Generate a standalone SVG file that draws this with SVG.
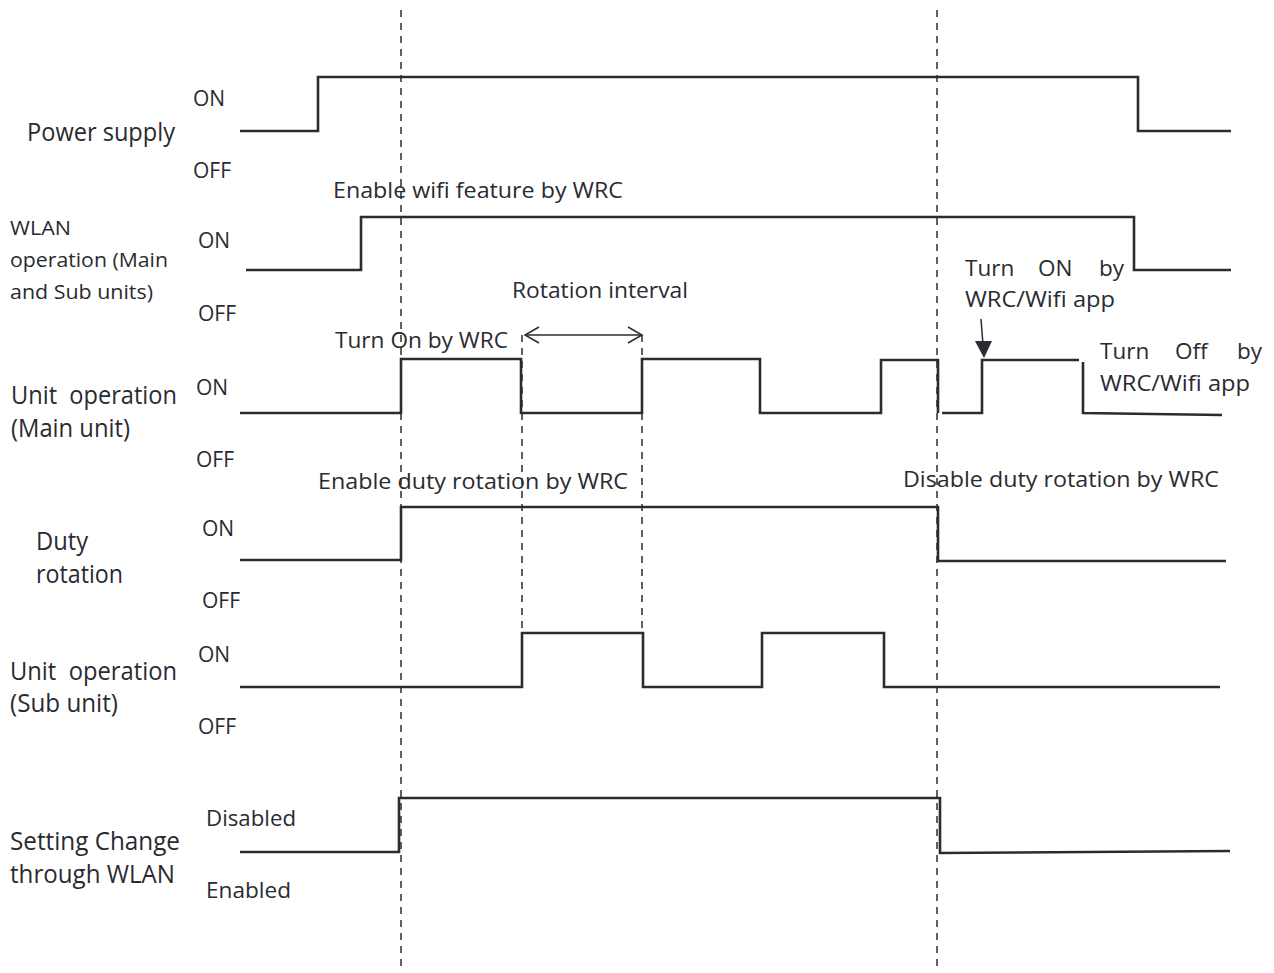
<svg xmlns="http://www.w3.org/2000/svg" width="1274" height="973" viewBox="0 0 1274 973">
<style>
text{font-family:"Open Sans","Noto Sans","Liberation Sans",sans-serif;fill:#2a2b30}
.lbl{font-size:25px}
.sm{font-size:20px}
.st{font-size:21px}
.ann{font-size:22.5px}
.sig{fill:none;stroke:#2b2c31;stroke-width:2.6;stroke-linejoin:miter;stroke-linecap:butt}
.dash{fill:none;stroke:#2b2c31;stroke-width:1.5;stroke-dasharray:7 6}
.thin{fill:none;stroke:#2b2c31;stroke-width:1.5}
</style>
<rect width="1274" height="973" fill="#ffffff"/>
<g id="connectors">
<line class="dash" x1="401" y1="10" x2="401" y2="970"/>
<line class="dash" x1="937" y1="10" x2="937" y2="970"/>
<line class="dash" x1="522" y1="335" x2="522" y2="633"/>
<line class="dash" x1="642" y1="335" x2="642" y2="633"/>
<g id="rotation-arrow">
<line class="thin" x1="525" y1="335" x2="642" y2="335"/>
<path class="thin" d="M539,327 L525,335 L539,343"/>
<path class="thin" d="M628,327 L642,335 L628,343"/>
</g>
<g id="turn-on-arrow">
<line class="thin" x1="981" y1="319" x2="983" y2="345"/>
<polygon points="975,341 992,341 984,358" fill="#2b2c31"/>
</g>
</g>
<g id="power-supply">
<text class="lbl" x="27" y="141" textLength="148" lengthAdjust="spacingAndGlyphs">Power supply</text>
<text class="st" x="193" y="106">ON</text>
<text class="st" x="193" y="178">OFF</text>
<polyline class="sig" points="240,131 318,131 318,77 1138,77 1138,131 1231,131"/>
</g>
<g id="wlan-operation">
<text class="sm" x="10" y="235" textLength="61" lengthAdjust="spacingAndGlyphs">WLAN</text>
<text class="sm" x="10" y="267" textLength="158" lengthAdjust="spacingAndGlyphs">operation (Main</text>
<text class="sm" x="10" y="299" textLength="143" lengthAdjust="spacingAndGlyphs">and Sub units)</text>
<text class="st" x="198" y="248">ON</text>
<text class="st" x="198" y="321">OFF</text>
<text class="ann" x="333" y="198" textLength="290" lengthAdjust="spacingAndGlyphs">Enable wifi feature by WRC</text>
<polyline class="sig" points="246,270 361,270 361,217 1134,217 1134,270 1231,270"/>
</g>
<g id="unit-operation-main">
<text class="lbl" x="11" y="404" textLength="166" lengthAdjust="spacingAndGlyphs" xml:space="preserve">Unit  operation</text>
<text class="lbl" x="11" y="437" textLength="119" lengthAdjust="spacingAndGlyphs">(Main unit)</text>
<text class="st" x="196" y="395">ON</text>
<text class="st" x="196" y="467">OFF</text>
<text class="ann" x="512" y="298" textLength="176" lengthAdjust="spacingAndGlyphs">Rotation interval</text>
<text class="ann" x="335" y="348" textLength="173" lengthAdjust="spacingAndGlyphs">Turn On by WRC</text>
<text class="ann" x="965" y="276">Turn</text>
<text class="ann" x="1038" y="276">ON</text>
<text class="ann" x="1099" y="276">by</text>
<text class="ann" x="965" y="307" textLength="150" lengthAdjust="spacingAndGlyphs">WRC/Wifi app</text>
<text class="ann" x="1100" y="359">Turn</text>
<text class="ann" x="1175" y="359">Off</text>
<text class="ann" x="1237" y="359">by</text>
<text class="ann" x="1100" y="391" textLength="150" lengthAdjust="spacingAndGlyphs">WRC/Wifi app</text>
<polyline class="sig" points="240,413 401,413 401,359 521,359 521,413 642,413 642,359 760,359 760,413 881,413 881,360 938,360 938,413"/>
<polyline class="sig" points="942,413 982,413 982,360 1079,360"/>
<polyline class="sig" points="1083,362 1083,413 1222,415"/>
</g>
<g id="duty-rotation">
<text class="lbl" x="36" y="550" textLength="52" lengthAdjust="spacingAndGlyphs">Duty</text>
<text class="lbl" x="36" y="583" textLength="87" lengthAdjust="spacingAndGlyphs">rotation</text>
<text class="st" x="202" y="536">ON</text>
<text class="st" x="202" y="608">OFF</text>
<text class="ann" x="318" y="489" textLength="310" lengthAdjust="spacingAndGlyphs">Enable duty rotation by WRC</text>
<text class="ann" x="903" y="487" textLength="316" lengthAdjust="spacingAndGlyphs">Disable duty rotation by WRC</text>
<polyline class="sig" points="240,560 401,560 401,507 938,507 938,561 1226,561"/>
</g>
<g id="unit-operation-sub">
<text class="lbl" x="10" y="680" textLength="167" lengthAdjust="spacingAndGlyphs" xml:space="preserve">Unit  operation</text>
<text class="lbl" x="10" y="712" textLength="108" lengthAdjust="spacingAndGlyphs">(Sub unit)</text>
<text class="st" x="198" y="662">ON</text>
<text class="st" x="198" y="734">OFF</text>
<polyline class="sig" points="240,687 522,687 522,633 643,633 643,687 762,687 762,633 884,633 884,687 1220,687"/>
</g>
<g id="setting-change">
<text class="lbl" x="10" y="850" textLength="170" lengthAdjust="spacingAndGlyphs">Setting Change</text>
<text class="lbl" x="10" y="883" textLength="165" lengthAdjust="spacingAndGlyphs">through WLAN</text>
<text class="st" x="206" y="826" textLength="90" lengthAdjust="spacingAndGlyphs">Disabled</text>
<text class="st" x="206" y="898" textLength="85" lengthAdjust="spacingAndGlyphs">Enabled</text>
<polyline class="sig" points="240,852 399,852 399,798 940,798 940,853 1230,851"/>
</g>
</svg>
